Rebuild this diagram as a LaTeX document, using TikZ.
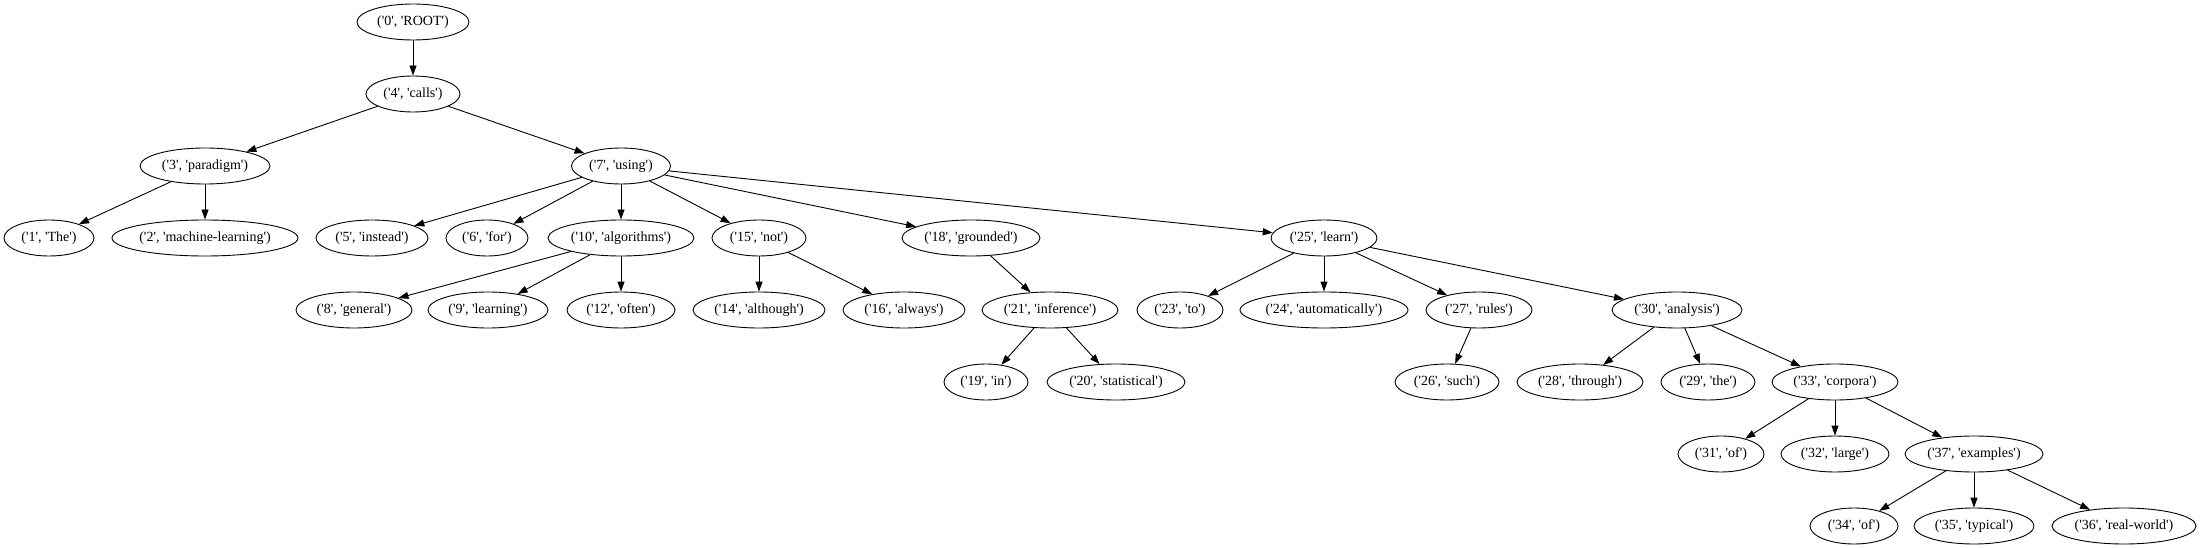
\documentclass[tikz,border=0pt]{standalone}
\usepackage{fontspec}
\setmainfont{Liberation Serif}
\usetikzlibrary{shapes.geometric,arrows.meta}
\newcommand{\sqt}{\textquotesingle}
\newcommand{\gvlab}[2]{(\sqt{}#1\sqt{}, \sqt{}#2\sqt{})}
\tikzset{
  gv/.style={ellipse, draw, line width=0.9pt, inner sep=0pt, minimum height=36pt,
    font=\fontsize{14}{16}\selectfont},
  gvedge/.style={draw, line width=0.9pt, -{Triangle[length=10pt,width=7pt]}},
}
\begin{document}
\begin{tikzpicture}[x=1pt, y={(0pt,-1pt)}]
\fill[white] (0,0) rectangle (2201,548);
\useasboundingbox (0,0) rectangle (2201,548);
% row 0
\node[gv, minimum width=112pt] (n0) at (413,22) {\gvlab{0}{ROOT}};
% row 1
\node[gv, minimum width=94pt] (n4) at (413,94) {\gvlab{4}{calls}};
% row 2
\node[gv, minimum width=130pt] (n3) at (205,166) {\gvlab{3}{paradigm}};
\node[gv, minimum width=99pt] (n7) at (621,166) {\gvlab{7}{using}};
% row 3
\node[gv, minimum width=90pt] (n1) at (49,238) {\gvlab{1}{The}};
\node[gv, minimum width=186pt] (n2) at (205,238) {\gvlab{2}{machine-learning}};
\node[gv, minimum width=112pt] (n5) at (372,238) {\gvlab{5}{instead}};
\node[gv, minimum width=82pt] (n6) at (487,238) {\gvlab{6}{for}};
\node[gv, minimum width=146pt] (n10) at (621,238) {\gvlab{10}{algorithms}};
\node[gv, minimum width=94pt] (n15) at (759,238) {\gvlab{15}{not}};
\node[gv, minimum width=138pt] (n18) at (971,238) {\gvlab{18}{grounded}};
\node[gv, minimum width=106pt] (n25) at (1324,238) {\gvlab{25}{learn}};
% row 4
\node[gv, minimum width=116pt] (n8) at (354,310) {\gvlab{8}{general}};
\node[gv, minimum width=120pt] (n9) at (488,310) {\gvlab{9}{learning}};
\node[gv, minimum width=108pt] (n12) at (621,310) {\gvlab{12}{often}};
\node[gv, minimum width=132pt] (n14) at (759,310) {\gvlab{14}{although}};
\node[gv, minimum width=122pt] (n16) at (904,310) {\gvlab{16}{always}};
\node[gv, minimum width=136pt] (n21) at (1050,310) {\gvlab{21}{inference}};
\node[gv, minimum width=86pt] (n23) at (1180,310) {\gvlab{23}{to}};
\node[gv, minimum width=168pt] (n24) at (1324,310) {\gvlab{24}{automatically}};
\node[gv, minimum width=106pt] (n27) at (1479,310) {\gvlab{27}{rules}};
\node[gv, minimum width=130pt] (n30) at (1677,310) {\gvlab{30}{analysis}};
% row 5
\node[gv, minimum width=84pt] (n19) at (986,382) {\gvlab{19}{in}};
\node[gv, minimum width=138pt] (n20) at (1116,382) {\gvlab{20}{statistical}};
\node[gv, minimum width=104pt] (n26) at (1447,382) {\gvlab{26}{such}};
\node[gv, minimum width=126pt] (n28) at (1580,382) {\gvlab{28}{through}};
\node[gv, minimum width=94pt] (n29) at (1708,382) {\gvlab{29}{the}};
\node[gv, minimum width=126pt] (n33) at (1835,382) {\gvlab{33}{corpora}};
% row 6
\node[gv, minimum width=86pt] (n31) at (1721,454) {\gvlab{31}{of}};
\node[gv, minimum width=108pt] (n32) at (1835,454) {\gvlab{32}{large}};
\node[gv, minimum width=138pt] (n37) at (1974,454) {\gvlab{37}{examples}};
% row 7
\node[gv, minimum width=88pt] (n34) at (1854,526) {\gvlab{34}{of}};
\node[gv, minimum width=120pt] (n35) at (1974,526) {\gvlab{35}{typical}};
\node[gv, minimum width=144pt] (n36) at (2124,526) {\gvlab{36}{real-world}};
% edges
\foreach \a/\b in {n0/n4, n4/n3, n4/n7, n3/n1, n3/n2, n7/n5, n7/n6, n7/n10,
  n7/n15, n7/n18, n7/n25, n10/n8, n10/n9, n10/n12, n15/n14, n15/n16,
  n18/n21, n21/n19, n21/n20, n25/n23, n25/n24, n25/n27, n25/n30, n27/n26,
  n30/n28, n30/n29, n30/n33, n33/n31, n33/n32, n33/n37, n37/n34, n37/n35, n37/n36}
  \path[gvedge] (\a) -- (\b);
\end{tikzpicture}
\end{document}
